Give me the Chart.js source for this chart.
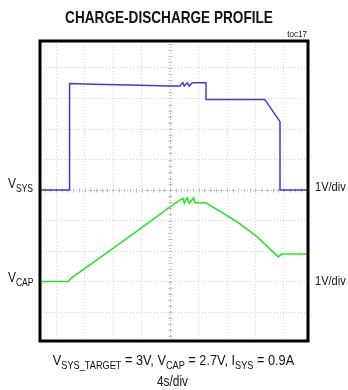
<!DOCTYPE html>
<html>
<head>
<meta charset="utf-8">
<script src="https://cdn.jsdelivr.net/npm/chart.js@4.4.1/dist/chart.umd.min.js"></script>
<style>
  body { margin: 0; background: #fff; }
  #chart { display: block; }
</style>
</head>
<body>
<canvas id="chart" width="348" height="390"></canvas>
<script>
// scope capture: x in seconds (4s/div), y in volts (1V/div)
const vsysTime  = [0, 5.9, 5.9, 9.2, 14.4, 18.6, 20, 21.4, 21.8, 22.0, 22.4, 22.7, 23.1, 23.5, 25.05, 25.05, 33.3, 35.44, 35.44, 41];
const vsysVolts = [0, 0, 3.49, 3.47, 3.44, 3.42, 3.41, 3.41, 3.52, 3.41, 3.51, 3.41, 3.51, 3.52, 3.52, 2.97, 2.97, 2.24, 0, 0];

const vcapTime  = [0, 5.73, 6.2, 14.4, 20, 21.4, 21.8, 22.0, 22.4, 22.7, 23.3, 23.5, 25.05, 29.4, 32.2, 35.2, 35.6, 41];
const vcapVolts = [0, 0, 0.12, 1.49, 2.45, 2.67, 2.73, 2.57, 2.74, 2.57, 2.74, 2.58, 2.58, 1.96, 1.47, 0.81, 0.90, 0.90];

// trace ground positions on screen, in divisions from the bottom
const vsysOffset = 5;
const vcapOffset = 2;

const xTicks = [4, 8, 12, 16, 20, 24, 28, 32, 36];
const yTicks = [1, 2, 3, 4, 5, 6, 7, 8, 9];
const xCenter = 20;
const yCenter = 5;

function toPoints(times, volts, offset) {
  return times.map((t, i) => ({ x: t, y: volts[i] + offset }));
}

// draw text with optional subscripts, squeezed horizontally
function drawLabel(ctx, parts, x, y, size, align, squeeze, bold) {
  const fam = '"Liberation Sans", Arial, sans-serif';
  const w = bold ? 'bold ' : '';
  const subSize = size * 0.72;
  let total = 0;
  parts.forEach(p => {
    ctx.font = w + (p.sub ? subSize : size) + 'px ' + fam;
    total += ctx.measureText(p.t).width;
  });
  total *= squeeze;
  let x0 = x;
  if (align === 'center') x0 = x - total / 2;
  if (align === 'right') x0 = x - total;
  ctx.save();
  ctx.translate(x0, y);
  ctx.scale(squeeze, 1);
  ctx.fillStyle = '#111';
  ctx.textBaseline = 'alphabetic';
  ctx.textAlign = 'left';
  let cx = 0;
  parts.forEach(p => {
    ctx.font = w + (p.sub ? subSize : size) + 'px ' + fam;
    ctx.fillText(p.t, cx, p.sub ? size * 0.25 : 0);
    cx += ctx.measureText(p.t).width;
  });
  ctx.restore();
}

const scopeDecor = {
  id: 'scopeDecor',
  beforeDatasetsDraw(chart) {
    const { ctx, chartArea: a, scales: { x, y } } = chart;
    ctx.save();
    ctx.strokeStyle = '#bdbdbd';
    ctx.lineWidth = 1;
    const cx = Math.round(x.getPixelForValue(xCenter)) + 0.5;
    const cy = Math.round(y.getPixelForValue(yCenter)) + 0.5;
    ctx.beginPath();
    for (let v = 0; v <= 10; v += 0.2) {
      const py = Math.round(y.getPixelForValue(v)) + 0.5;
      if (py < a.top || py > a.bottom) continue;
      ctx.moveTo(cx - 2, py); ctx.lineTo(cx + 2, py);
    }
    for (let t = 0; t <= 40; t += 0.8) {
      const px = Math.round(x.getPixelForValue(t)) + 0.5;
      if (px < a.left || px > a.right) continue;
      ctx.moveTo(px, cy - 2); ctx.lineTo(px, cy + 2);
    }
    ctx.stroke();
    ctx.restore();
  },
  afterDraw(chart) {
    const { ctx, chartArea: a } = chart;
    ctx.save();
    ctx.strokeStyle = '#000';
    ctx.lineWidth = 3;
    ctx.strokeRect(a.left, a.top, a.right - a.left, a.bottom - a.top);
    ctx.restore();

    drawLabel(ctx, [{ t: 'CHARGE-DISCHARGE PROFILE' }], 169, 23, 17, 'center', 0.8, true);
    drawLabel(ctx, [{ t: 'toc17' }], 307, 37, 9, 'right', 0.9, false);
    drawLabel(ctx, [{ t: 'V' }, { t: 'SYS', sub: true }], 8, 188, 14, 'left', 0.85, false);
    drawLabel(ctx, [{ t: 'V' }, { t: 'CAP', sub: true }], 8, 282, 14, 'left', 0.85, false);
    drawLabel(ctx, [{ t: '1V/div' }], 315, 191, 13, 'left', 0.85, false);
    drawLabel(ctx, [{ t: '1V/div' }], 315, 285, 13, 'left', 0.85, false);
    drawLabel(ctx, [
      { t: 'V' }, { t: 'SYS_TARGET', sub: true }, { t: ' = 3V, V' }, { t: 'CAP', sub: true },
      { t: ' = 2.7V, I' }, { t: 'SYS', sub: true }, { t: ' = 0.9A' }
    ], 173.5, 365, 15, 'center', 0.85, false);
    drawLabel(ctx, [{ t: '4s/div' }], 172.5, 386, 14, 'center', 0.85, false);
  }
};

new Chart(document.getElementById('chart'), {
  type: 'line',
  data: {
    datasets: [
      {
        label: 'VSYS',
        data: toPoints(vsysTime, vsysVolts, vsysOffset),
        borderColor: '#3d3dd6',
        borderWidth: 1.5,
        pointRadius: 0,
        tension: 0
      },
      {
        label: 'VCAP',
        data: toPoints(vcapTime, vcapVolts, vcapOffset),
        borderColor: '#2de02d',
        borderWidth: 1.6,
        pointRadius: 0,
        tension: 0
      }
    ]
  },
  options: {
    responsive: false,
    animation: false,
    layout: { padding: { left: 40, right: 40, top: 41, bottom: 49 } },
    plugins: {
      legend: { display: false },
      tooltip: { enabled: false }
    },
    scales: {
      x: {
        type: 'linear',
        min: 1.75,
        max: 39.37,
        afterBuildTicks: s => { s.ticks = xTicks.map(v => ({ value: v })); },
        ticks: { display: false },
        border: { display: false, dash: [1, 2] },
        grid: {
          drawTicks: false,
          lineWidth: 1,
          color: c => (c.tick && c.tick.value === xCenter ? '#a8a8a8' : '#d6d6d6')
        }
      },
      y: {
        type: 'linear',
        min: 0.05,
        max: 9.885,
        afterBuildTicks: s => { s.ticks = yTicks.map(v => ({ value: v })); },
        ticks: { display: false },
        border: { display: false, dash: [1, 2] },
        grid: {
          drawTicks: false,
          lineWidth: 1,
          color: c => (c.tick && c.tick.value === yCenter ? '#a8a8a8' : '#d6d6d6')
        }
      }
    }
  },
  plugins: [scopeDecor]
});
</script>
</body>
</html>
